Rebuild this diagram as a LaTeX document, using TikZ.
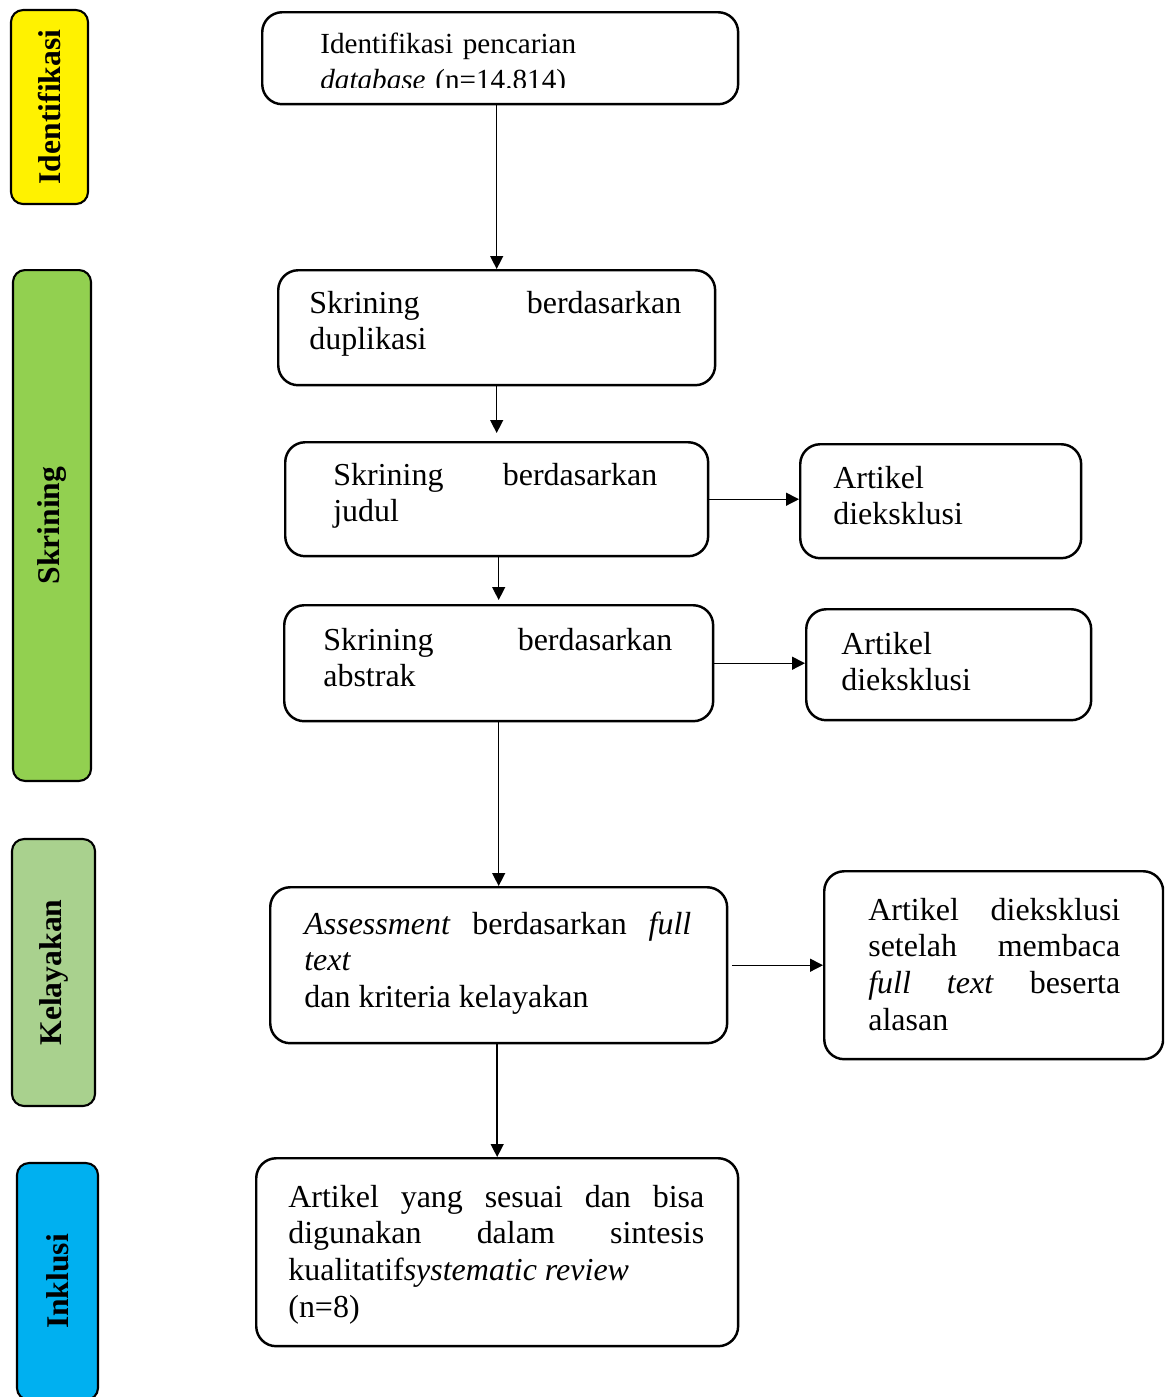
\documentclass[tikz,border=0pt]{standalone}
\usepackage{fontspec}
\setmainfont{Liberation Serif}
\usetikzlibrary{arrows.meta}
\hyphenpenalty=10000
\tolerance=10000
\hbadness=10000

\definecolor{skrgreen}{HTML}{92D050}
\definecolor{layakgreen}{HTML}{A9D18E}
\definecolor{inkblue}{HTML}{00B0F0}

\begin{document}
\begin{tikzpicture}[x=0.02cm, y=-0.02cm,
    box/.style={draw, line width=1.4pt, rounded corners=0.4cm, anchor=north west, inner sep=0pt},
    bar/.style={draw, line width=1.2pt, rounded corners=0.24cm, rotate=90, inner sep=0pt, font=\fontsize{18}{20}\selectfont\bfseries},
    txt/.style={anchor=base west, inner sep=0pt, align=justify, font=\fontsize{18.2}{20.9}\selectfont},
    arr/.style={line width=0.8pt, -{Triangle[length=0.26cm, width=0.26cm]}}]

\clip (0,0) rectangle (1164,1397);

% side bars
\node[bar, fill=yellow, minimum width=3.88cm, minimum height=1.54cm] (idbar) at (49.5,107) {Identifikasi};
\node[bar, fill=skrgreen, minimum width=10.22cm, minimum height=1.56cm] (skrbar) at (52,525.5) {Skrining};
\node[bar, fill=layakgreen, minimum width=5.34cm, minimum height=1.66cm] (layakbar) at (53.5,972.5) {Kelayakan};
\node[bar, fill=inkblue, minimum width=4.74cm, minimum height=1.62cm] (inkbar) at (57.5,1281.5) {Inklusi};

% boxes
\node[box, minimum width=9.52cm, minimum height=1.84cm] (ident) at (261,11) {};
\node[box, minimum width=8.74cm, minimum height=2.30cm] (dup) at (277,269) {};
\node[box, minimum width=8.46cm, minimum height=2.28cm] (judul) at (284,441) {};
\node[box, minimum width=8.58cm, minimum height=2.32cm] (abstrak) at (283,604) {};
\node[box, minimum width=9.14cm, minimum height=3.12cm] (layak) at (269,886) {};
\node[box, minimum width=9.64cm, minimum height=3.76cm] (hasil) at (255,1157) {};
\node[box, minimum width=5.62cm, minimum height=2.28cm] (eks1) at (799,443) {};
\node[box, minimum width=5.70cm, minimum height=2.22cm] (eks2) at (805,608) {};
\node[box, minimum width=6.78cm, minimum height=3.76cm] (eks3) at (823,870) {};

% texts
\begin{scope}
  \clip (300,20) rectangle (720,87);
  \node[txt, align=left, text width=8cm, font=\fontsize{16.6}{20.5}\selectfont] (identT) at (320,53) {Identifikasi pencarian\\\textit{database} (n=14.814)};
\end{scope}
\node[txt, text width=7.44cm] (dupT) at (309,313) {Skrining berdasarkan duplikasi};
\node[txt, text width=6.48cm] (judulT) at (333,485) {Skrining berdasarkan judul};
\node[txt, text width=6.98cm] (abstrakT) at (323,650) {Skrining berdasarkan abstrak};
\node[txt, text width=7.74cm] (layakT) at (304,934) {\textit{Assessment} berdasarkan \textit{full text}\\dan kriteria kelayakan};
\node[txt, text width=8.32cm] (hasilT) at (288,1207) {Artikel yang sesuai dan bisa digunakan dalam sintesis kualitatif\textit{systematic review}\\(n=8)};
\node[txt, align=left, text width=4cm] (eks1T) at (833,488) {Artikel\\dieksklusi};
\node[txt, align=left, text width=4cm] (eks2T) at (841,654) {Artikel\\dieksklusi};
\node[txt, text width=5.04cm] (eks3T) at (868,920) {Artikel dieksklusi setelah membaca \textit{full text} beserta alasan};

% arrows
\draw[arr] (ident.south -| dup.north) -- (dup.north);
\draw[arr] (dup.south -| judul.north) -- ([yshift=0.16cm]judul.north);
\draw[arr] (judul.south -| abstrak.north) -- ([yshift=0.08cm]abstrak.north);
\draw[arr] (abstrak.south -| layak.north) -- (layak.north);
\draw[arr] (layak.south -| hasil.north) -- (hasil.north);
\draw[arr] (judul.east) -- (judul.east -| eks1.west);
\draw[arr] (abstrak.east) -- (abstrak.east -| eks2.west);
\draw[arr] ([xshift=0.08cm]layak.east) -- (layak.east -| eks3.west);
\end{tikzpicture}
\end{document}
